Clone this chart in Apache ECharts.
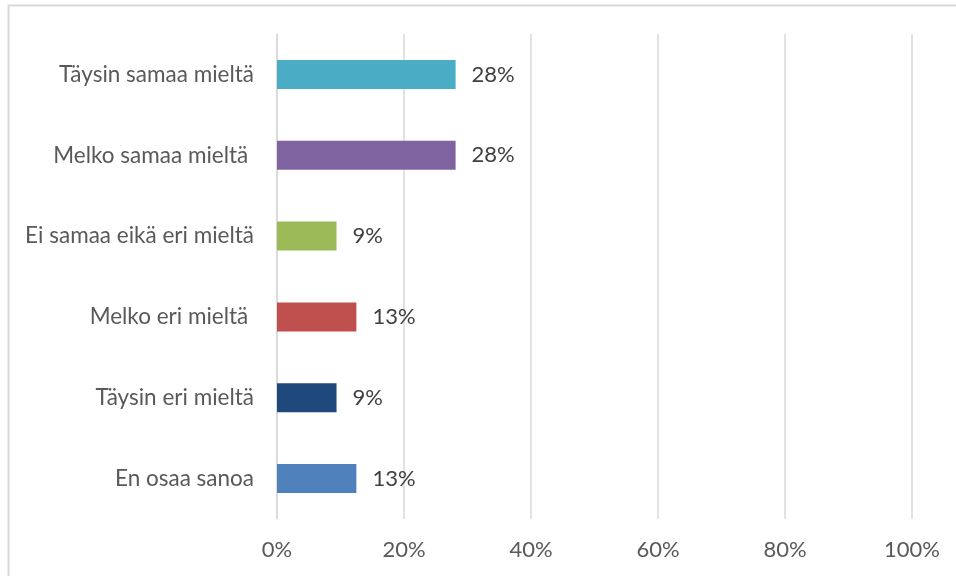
<!DOCTYPE html>
<html>
<head>
<meta charset="utf-8">
<script src="https://cdn.jsdelivr.net/npm/echarts@6/dist/echarts.min.js"></script>
<style>html,body{margin:0;padding:0;background:#fff}#c{width:956px;height:576px}</style>
</head>
<body>
<div id="c"></div>
<script>
var categories = ['Täysin samaa mieltä', 'Melko samaa mieltä ', 'Ei samaa eikä eri mieltä', 'Melko eri mieltä ', 'Täysin eri mieltä', 'En osaa sanoa'];
var values = [28.125, 28.125, 9.375, 12.5, 9.375, 12.5];
var barColors = ['#4BACC6', '#8064A2', '#9BBB59', '#C0504D', '#1F497D', '#4F81BD'];
var xTicks = [0, 20, 40, 60, 80, 100];

var FONT = 'Lato';
var chart = echarts.init(document.getElementById('c'), null, {renderer: 'canvas'});
chart.setOption({
  animation: false,
  backgroundColor: '#fff',
  graphic: [{
    type: 'rect', silent: true,
    shape: {x: 8.5, y: 5.5, width: 1000, height: 700},
    style: {fill: 'none', stroke: '#d9d9d9', lineWidth: 2}
  }],
  grid: {left: 277, right: 44, top: 34, bottom: 57, containLabel: false},
  xAxis: {
    type: 'value', min: xTicks[0], max: xTicks[xTicks.length - 1], interval: 20,
    axisLine: {show: false}, axisTick: {show: false},
    splitLine: {show: true, lineStyle: {color: '#d9d9d9', width: 1.5}},
    axisLabel: {formatter: function (v) { return v + '%'; }, color: '#595959', fontFamily: FONT, fontSize: 22, margin: 20}
  },
  yAxis: {
    type: 'category', data: categories, inverse: true,
    axisLine: {show: true, lineStyle: {color: '#d9d9d9', width: 1.5}},
    axisTick: {show: false},
    axisLabel: {color: '#595959', fontFamily: FONT, fontSize: 22.5, margin: 23}
  },
  series: [{
    type: 'bar', barWidth: 29,
    data: values.map(function (v, i) { return {value: v, itemStyle: {color: barColors[i]}}; }),
    label: {show: true, position: 'right', distance: 16, color: '#404040', fontFamily: FONT, fontSize: 22,
      formatter: function (p) { return Math.round(p.value) + '%'; }}
  }]
});
</script>
</body>
</html>
